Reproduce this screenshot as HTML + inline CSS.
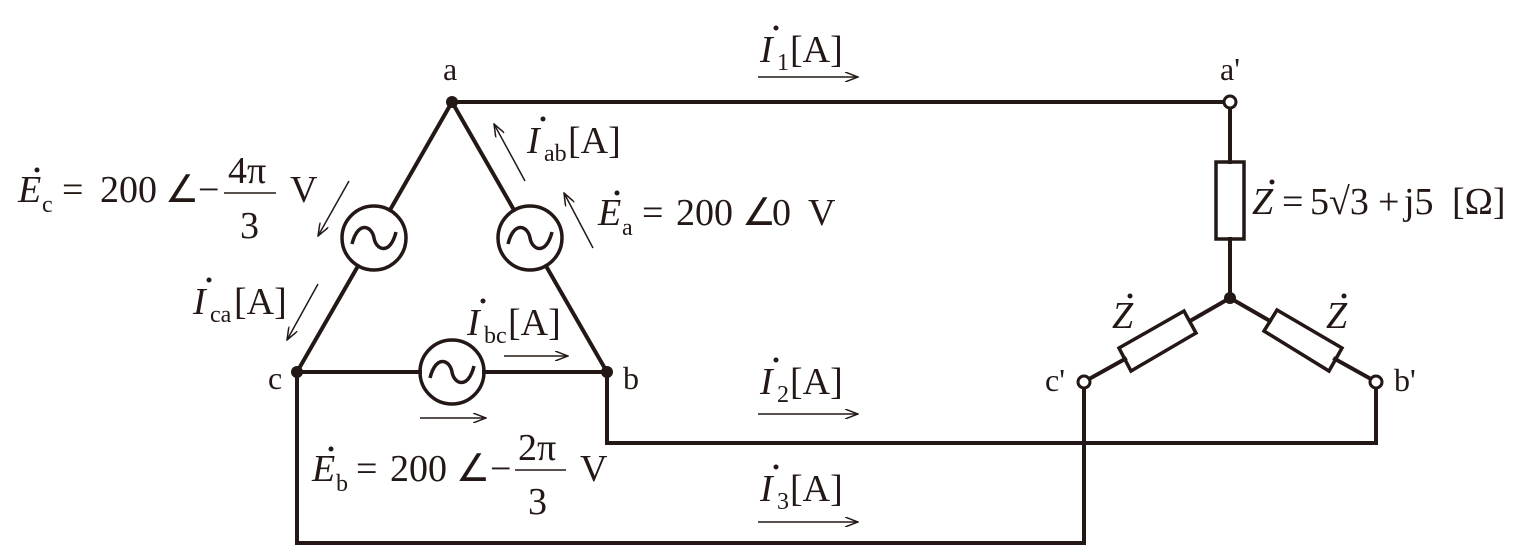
<!DOCTYPE html>
<html><head><meta charset="utf-8"><style>
html,body{margin:0;padding:0;background:#fff;}
svg{display:block;}
text{font-family:"Liberation Serif",serif;fill:#231815;}
.i{font-style:italic;}
</style></head><body>
<svg width="1536" height="558" viewBox="0 0 1536 558" xmlns="http://www.w3.org/2000/svg">
<defs>
<marker id="ar" markerWidth="14" markerHeight="10" refX="13" refY="5" orient="auto" markerUnits="userSpaceOnUse">
<path d="M0,0 L13,5 L0,10" fill="none" stroke="#231815" stroke-width="1.5"/>
</marker>
</defs>
<g stroke="#231815" stroke-width="4" fill="none" stroke-linecap="square">
<line x1="452" y1="102" x2="390" y2="210"/>
<line x1="358" y1="266" x2="297" y2="372"/>
<line x1="452" y1="102" x2="514" y2="210"/>
<line x1="546" y1="266" x2="607" y2="372"/>
<line x1="297" y1="372" x2="420" y2="372"/>
<line x1="484" y1="372" x2="607" y2="372"/>
<circle cx="374" cy="238" r="32" stroke-width="3.5"/>
<circle cx="530" cy="238" r="32" stroke-width="3.5"/>
<circle cx="452" cy="372" r="32" stroke-width="3.5"/>
<line x1="452" y1="102" x2="1224" y2="102"/>
<line x1="297" y1="372" x2="297" y2="543"/>
<line x1="297" y1="543" x2="1084" y2="543"/>
<line x1="1084" y1="543" x2="1084" y2="388"/>
<line x1="607" y1="372" x2="607" y2="443"/>
<line x1="607" y1="443" x2="1376" y2="443"/>
<line x1="1376" y1="443" x2="1376" y2="388"/>
<line x1="1230" y1="108" x2="1230" y2="162"/>
<rect x="1216" y="162" width="28" height="77" stroke-width="3.5"/>
<line x1="1230" y1="239" x2="1230" y2="298"/>
<line x1="1230" y1="298" x2="1190" y2="321"/>
<line x1="1125" y1="359" x2="1089" y2="379"/>
<line x1="1230" y1="298" x2="1270" y2="321"/>
<line x1="1335" y1="359" x2="1371" y2="379"/>
<polygon points="1119,348 1184,311 1196,333 1131,371" stroke-width="3.5"/>
<polygon points="1264,331 1277,310 1342,348 1329,371" stroke-width="3.5"/>
<circle cx="1230" cy="102" r="6" fill="#fff" stroke-width="3"/>
<circle cx="1084" cy="382" r="6" fill="#fff" stroke-width="3"/>
<circle cx="1376" cy="382" r="6" fill="#fff" stroke-width="3"/>
</g>
<g fill="#231815">
<circle cx="452" cy="102" r="6"/>
<circle cx="297" cy="372" r="6"/>
<circle cx="607" cy="372" r="6"/>
<circle cx="1230" cy="298" r="6"/>
</g>
<g stroke="#231815" stroke-width="3.5" fill="none">
<path d="M352,244 C358,220 372,226 374,238 C376,250 390,256 396,232"/>
<path d="M508,244 C514,220 528,226 530,238 C532,250 546,256 552,232"/>
<path d="M430,378 C436,354 450,360 452,372 C454,384 468,390 474,366"/>
</g>
<g stroke="#231815" stroke-width="1.5" marker-end="url(#ar)">
<line x1="758" y1="77" x2="858" y2="77"/>
<line x1="758" y1="414" x2="858" y2="414"/>
<line x1="758" y1="522" x2="858" y2="522"/>
<line x1="525" y1="181" x2="494" y2="124"/>
<line x1="593" y1="248" x2="564" y2="193"/>
<line x1="349" y1="181" x2="318" y2="236"/>
<line x1="318" y1="284" x2="287" y2="340"/>
<line x1="504" y1="356" x2="568" y2="356"/>
<line x1="420" y1="418" x2="486" y2="418"/>
</g>
<g font-size="32">
<text x="443" y="80">a</text>
<text x="1220" y="80">a'</text>
<text x="268" y="389">c</text>
<text x="623" y="389">b</text>
<text x="1045" y="391">c'</text>
<text x="1394" y="391">b'</text>
</g>
<g font-size="38">
<text x="760" y="62" class="i">I</text><text x="777" y="70" font-size="24">1</text><text x="790" y="62">[A]</text>
<text x="760" y="394" class="i">I</text><text x="777" y="402" font-size="24">2</text><text x="790" y="394">[A]</text>
<text x="760" y="501" class="i">I</text><text x="777" y="509" font-size="24">3</text><text x="790" y="501">[A]</text>
<text x="527" y="153" class="i">I</text><text x="544" y="161" font-size="24">ab</text><text x="568" y="153">[A]</text>
<text x="193" y="314" class="i">I</text><text x="210" y="322" font-size="24">ca</text><text x="234" y="314">[A]</text>
<text x="467" y="335" class="i">I</text><text x="484" y="343" font-size="24">bc</text><text x="508" y="335">[A]</text>
<text x="18" y="202" class="i">E</text><text x="42" y="212" font-size="24">c</text>
<text x="62" y="202">=</text><text x="100" y="202">200</text><text x="165" y="202">∠</text><text x="198" y="202">−</text>
<text x="228" y="183">4π</text>
<text x="240" y="238">3</text>
<text x="290" y="202">V</text>
<text x="598" y="225" class="i">E</text><text x="622" y="235" font-size="24">a</text>
<text x="642" y="225">=</text><text x="676" y="225">200</text><text x="742" y="225">∠</text><text x="772" y="225">0</text><text x="808" y="225">V</text>
<text x="312" y="481" class="i">E</text><text x="336" y="491" font-size="24">b</text>
<text x="356" y="481">=</text><text x="390" y="481">200</text><text x="456" y="481">∠</text><text x="490" y="481">−</text>
<text x="518" y="460">2π</text>
<text x="528" y="514">3</text>
<text x="580" y="481">V</text>
<text x="1252" y="214" class="i">Z</text>
<text x="1282" y="214">=</text><text x="1310" y="214">5√3</text><text x="1378" y="214">+</text><text x="1404" y="214">j5</text><text x="1452" y="214">[Ω]</text>
<text x="1112" y="328" class="i">Z</text>
<text x="1326" y="328" class="i">Z</text>
</g>
<g stroke="#231815" stroke-width="1.5">
<line x1="224" y1="193" x2="276" y2="193"/>
<line x1="515" y1="470" x2="566" y2="470"/>
</g>
<g fill="#231815">
<circle cx="776" cy="28" r="2.5"/>
<circle cx="776" cy="360" r="2.5"/>
<circle cx="776" cy="467" r="2.5"/>
<circle cx="543" cy="119" r="2.5"/>
<circle cx="209" cy="280" r="2.5"/>
<circle cx="483" cy="301" r="2.5"/>
<circle cx="37" cy="170" r="2.5"/>
<circle cx="617" cy="193" r="2.5"/>
<circle cx="331" cy="449" r="2.5"/>
<circle cx="1272" cy="182" r="2.5"/>
<circle cx="1130" cy="296" r="2.5"/>
<circle cx="1344" cy="296" r="2.5"/>
</g>
</svg>
</body></html>
